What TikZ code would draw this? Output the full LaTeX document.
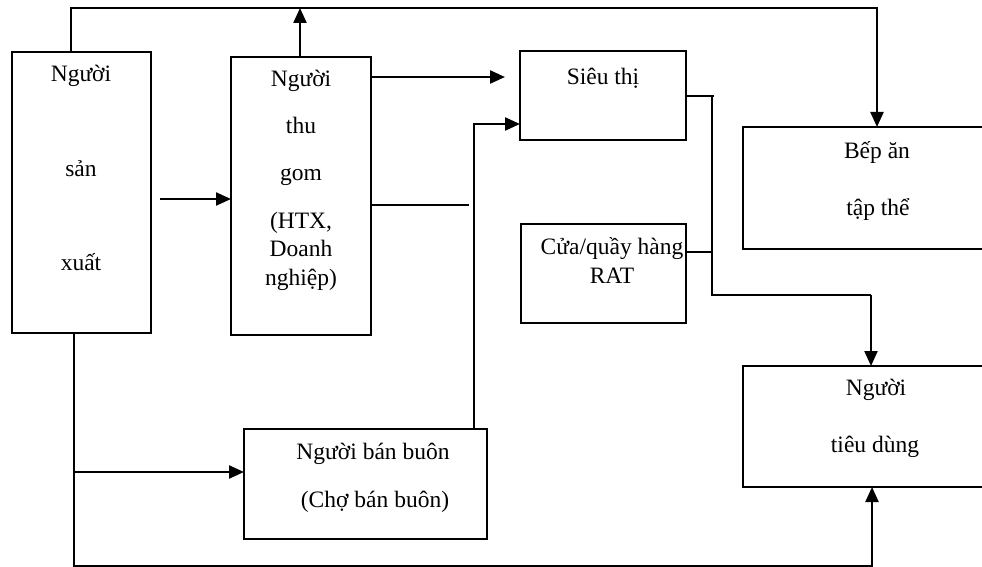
\documentclass[tikz,border=0pt]{standalone}
\usepackage{fontspec}
\setmainfont{Liberation Serif}
\usetikzlibrary{arrows.meta}
\tikzset{
  box/.style={draw, line width=1.8pt, anchor=north west, inner sep=0pt, outer sep=0pt},
  txt/.style={anchor=base, inner sep=0pt, font=\fontsize{23.5}{28}\selectfont},
  conn/.style={line width=2.3pt},
  thinconn/.style={line width=1.4pt},
  arr/.style={conn, -{Triangle[length=15pt,width=13pt]}}
}
\begin{document}
\begin{tikzpicture}[x=1pt,y=-1pt]
\useasboundingbox (0,0) rectangle (982,567);
% boxes
\node[box, minimum width=139pt, minimum height=281pt] (nsx) at (12,52) {};
\node[box, minimum width=140pt, minimum height=278pt] (ntg) at (231,57) {};
\node[box, minimum width=166pt, minimum height=89pt] (sieu) at (520,51) {};
\node[box, minimum width=165pt, minimum height=99pt] (cua) at (521,224) {};
\node[box, minimum width=245pt, minimum height=122pt] (bep) at (743,127) {};
\node[box, minimum width=245pt, minimum height=121pt] (ntd) at (743,366) {};
\node[box, minimum width=243pt, minimum height=110pt] (nbb) at (244,429) {};
% texts
\node[txt] (nsx1) at (81,82) {Người};
\node[txt] (nsx2) at (81,176) {sản};
\node[txt] (nsx3) at (81,270) {xuất};
\node[txt] (ntg1) at (301,87) {Người};
\node[txt] (ntg2) at (301,133) {thu};
\node[txt] (ntg3) at (301,180) {gom};
\node[txt] (ntg4) at (301,228) {(HTX,};
\node[txt] (ntg5) at (301,256) {Doanh};
\node[txt] (ntg6) at (301,285) {nghiệp)};
\node[txt] (sieu1) at (603,85) {Siêu thị};
\node[txt] (cua1) at (612,254) {Cửa/quầy hàng};
\node[txt] (cua2) at (612,283) {RAT};
\node[txt] (bep1) at (877,158) {Bếp ăn};
\node[txt] (bep2) at (878,215) {tập thể};
\node[txt] (ntd1) at (876,395) {Người};
\node[txt] (ntd2) at (875,452) {tiêu dùng};
\node[txt] (nbb1) at (373,459) {Người bán buôn};
\node[txt] (nbb2) at (375,507) {(Chợ bán buôn)};
% coordinates
\coordinate (tl) at (71,8);
\coordinate (tr) at (877,8);
\coordinate (tu) at (300,8);
\coordinate (s1) at (505,77);
\coordinate (a1) at (160,199);
\coordinate (s2) at (469,205);
\coordinate (b1) at (474,124);
\coordinate (j1) at (714,96);
\coordinate (j2) at (712,96);
\coordinate (j3) at (712,295);
\coordinate (j4) at (871,295);
\coordinate (c1) at (712,252);
\coordinate (bl) at (74,566);
\coordinate (br) at (872,566);
\coordinate (bb) at (74,472);
% connectors
\draw[arr] (nsx.north -| tl) -- (tl) -- (tr) -- (bep.north -| tr);
\draw[arr] (ntg.north -| tu) -- (tu);
\draw[arr] (ntg.east |- s1) -- (s1);
\draw[arr] (a1) -- (ntg.west |- a1);
\draw[conn] (ntg.east |- s2) -- (s2);
\draw[arr] (nbb.north -| b1) -- (b1) -- (sieu.west |- b1);
\draw[thinconn] (sieu.east |- j1) -- (j1);
\draw[thinconn] (j2) -- (j3) -- (j4);
\draw[arr] (j4) -- (ntd.north -| j4);
\draw[thinconn] (cua.east |- c1) -- (c1);
\draw[arr] (nsx.south -| bl) -- (bl) -- (br) -- (ntd.south -| br);
\draw[arr] (bb) -- (nbb.west |- bb);
\end{tikzpicture}
\end{document}
